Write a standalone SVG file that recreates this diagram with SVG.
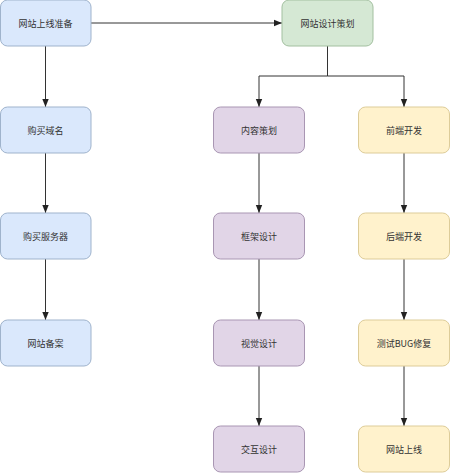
<svg xmlns="http://www.w3.org/2000/svg" width="450" height="473" viewBox="0 0 450 473">
<defs>
<style>
.n rect{stroke-width:1}
.b rect{fill:#dae8fc;stroke:#9fb3cc}
.g rect{fill:#d5e8d4;stroke:#a3c0a0}
.p rect{fill:#e1d5e7;stroke:#a996b3}
.y rect{fill:#fff2cc;stroke:#ddcc99}
.n text{font-family:"Noto Sans CJK SC","Noto Sans",sans-serif;font-size:9px;fill:#333;text-anchor:middle;dominant-baseline:central}
.c path{fill:none;stroke:#333;stroke-width:1}
</style>
<marker id="ah" viewBox="0 0 8 8" refX="8" refY="4" markerWidth="8" markerHeight="8" markerUnits="userSpaceOnUse" orient="auto">
<path d="M0,0.8 L8,4 L0,7.2 Z" fill="#222"/>
</marker>
</defs>
<rect width="450" height="473" fill="#fff"/>
<g class="c">
<path d="M91,23 H282" marker-end="url(#ah)"/>
<path d="M45.5,46 V107" marker-end="url(#ah)"/>
<path d="M45.5,153 V213" marker-end="url(#ah)"/>
<path d="M45.5,259 V320" marker-end="url(#ah)"/>
<path d="M327.5,46 V76 H259 V107" marker-end="url(#ah)"/>
<path d="M327.5,76 H404 V107" marker-end="url(#ah)"/>
<path d="M259,153 V213" marker-end="url(#ah)"/>
<path d="M259,259 V320" marker-end="url(#ah)"/>
<path d="M259,366 V426" marker-end="url(#ah)"/>
<path d="M404,153 V213" marker-end="url(#ah)"/>
<path d="M404,259 V320" marker-end="url(#ah)"/>
<path d="M404,366 V426" marker-end="url(#ah)"/>
</g>
<g id="n1" class="n b"><rect x="0.5" y="0" width="90.5" height="46" rx="7"/><text x="45.5" y="23">网站上线准备</text></g>
<g id="n2" class="n b"><rect x="0.5" y="107" width="90.5" height="46" rx="7"/><text x="45.5" y="130">购买域名</text></g>
<g id="n3" class="n b"><rect x="0.5" y="213" width="90.5" height="46" rx="7"/><text x="45.5" y="236">购买服务器</text></g>
<g id="n4" class="n b"><rect x="0.5" y="320" width="90.5" height="46" rx="7"/><text x="45.5" y="343">网站备案</text></g>
<g id="n5" class="n g"><rect x="282" y="0" width="91" height="46" rx="7"/><text x="327.5" y="23">网站设计策划</text></g>
<g id="n6" class="n p"><rect x="213.5" y="107" width="91" height="46" rx="7"/><text x="259" y="130">内容策划</text></g>
<g id="n7" class="n p"><rect x="213.5" y="213" width="91" height="46" rx="7"/><text x="259" y="236">框架设计</text></g>
<g id="n8" class="n p"><rect x="213.5" y="320" width="91" height="46" rx="7"/><text x="259" y="343">视觉设计</text></g>
<g id="n9" class="n p"><rect x="213.5" y="426" width="91" height="46" rx="7"/><text x="259" y="449">交互设计</text></g>
<g id="n10" class="n y"><rect x="358.5" y="107" width="91" height="46" rx="7"/><text x="404" y="130">前端开发</text></g>
<g id="n11" class="n y"><rect x="358.5" y="213" width="91" height="46" rx="7"/><text x="404" y="236">后端开发</text></g>
<g id="n12" class="n y"><rect x="358.5" y="320" width="91" height="46" rx="7"/><text x="404" y="343">测试BUG修复</text></g>
<g id="n13" class="n y"><rect x="358.5" y="426" width="91" height="46" rx="7"/><text x="404" y="449">网站上线</text></g>
</svg>
